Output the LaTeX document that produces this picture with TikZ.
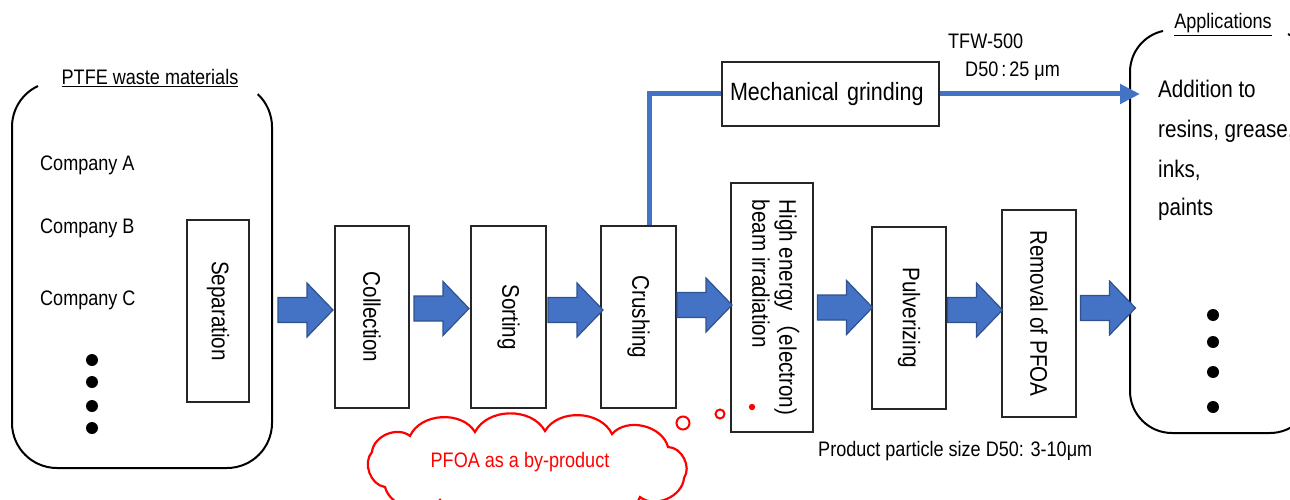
\documentclass[tikz,border=0pt]{standalone}
\usepackage{fontspec}
\setmainfont{Liberation Sans}[FakeStretch=0.86]
\newfontfamily\cjkfont{Noto Sans CJK JP}
\usetikzlibrary{arrows.meta,calc}
\definecolor{flowblue}{HTML}{4472C4}
\definecolor{flowedge}{HTML}{2F528F}
\newcommand\boxsize{\fontsize{24}{27}\selectfont}
\newcommand\labsize{\fontsize{21}{24}\selectfont}
\newcommand\titlesize{\fontsize{21}{24}\selectfont}
\tikzset{
  procbox/.style={draw=black!85, line width=1.2pt, fill=white, inner sep=0pt, font=\boxsize},
  lab/.style={font=\labsize, inner sep=0pt, anchor=base west},
  blueline/.style={draw=flowblue, line width=5pt},
  container/.style={draw=black, line width=2pt},
  bubble/.style={draw=red, line width=2pt},
  puff/.style={bend left=62},
  barrow/.pic={\path[draw=flowedge, fill=flowblue, line width=1.2pt]
    (-27.5,-12.5) -- (1.5,-12.5) -- (1.5,-27) -- (27.5,0) -- (1.5,27)
    -- (1.5,12.5) -- (-27.5,12.5) -- cycle;}
}
\begin{document}
\begin{tikzpicture}[x=1pt,y=-1pt]
\useasboundingbox (0,0) rectangle (1290,500);
\clip (0,0) rectangle (1290,500);

% source container (top edge left open for its title)
\draw[container] (38,86) arc[start angle=245, end angle=180, radius=45]
  -- (12,423) arc[start angle=180, end angle=90, radius=45]
  -- (227,468) arc[start angle=90, end angle=0, radius=45]
  -- (272,127) arc[start angle=0, end angle=-47, radius=45];
\node[lab, anchor=base, font=\titlesize] (ptfe) at (150,85) {\underline{PTFE waste materials}};
\node[lab] (ca) at (40,170) {Company A};
\node[lab] (cb) at (40,233) {Company B};
\node[lab] (cc) at (40,305) {Company C};
\foreach \yy in {360,382,406,428} \fill (92,\yy) circle[radius=6];

% applications container
\draw[container] (1288,34) arc[start angle=295.4, end angle=360, radius=42]
  -- (1312,391) arc[start angle=0, end angle=90, radius=42]
  -- (1172,433) arc[start angle=90, end angle=180, radius=42]
  -- (1130,72) arc[start angle=180, end angle=257.6, radius=42];
\node[lab, anchor=base, font=\titlesize] (apps) at (1223,29) {\underline{Applications}};
\node[lab, font=\boxsize] (add1) at (1158,98) {Addition to};
\node[lab, font=\boxsize] (add2) at (1158,138) {resins, grease,};
\node[lab, font=\boxsize] (add3) at (1158,177) {inks,};
\node[lab, font=\boxsize] (add4) at (1158,215) {paints};
\foreach \yy in {315,342,372,407} \fill (1213,\yy) circle[radius=6];

% process steps
\node[procbox, minimum width=62, minimum height=182] (sep) at (218,311) {\rotatebox{-90}{Separation}};
\node[procbox, minimum width=74, minimum height=182] (coll) at (372,317) {\rotatebox{-90}{Collection}};
\node[procbox, minimum width=75, minimum height=182] (sort) at (508.5,317) {\rotatebox{-90}{Sorting}};
\node[procbox, minimum width=75, minimum height=182] (crush) at (638.5,317) {\rotatebox{-90}{Crushing}};
\node[procbox, minimum width=82, minimum height=249] (beam) at (772,307.5)
  {\rotatebox{-90}{\begin{tabular}{@{}l@{}}High energy{\cjkfont （}electron)\\beam irradiation\end{tabular}}};
\node[procbox, minimum width=74, minimum height=182] (pulv) at (909,318) {\rotatebox{-90}{Pulverizing}};
\node[procbox, minimum width=74, minimum height=207] (rem) at (1039,313.5) {\rotatebox{-90}{Removal of PFOA}};
\node[procbox, minimum width=217, minimum height=64, text width=201, align=left,
  font=\fontsize{25}{28}\selectfont] (mech) at (830.5,94) {Mechanical grinding};

% block arrows between the steps
\pic at (305.5,310) {barrow};
\pic at (441.5,308.5) {barrow};
\pic at (575.5,310) {barrow};
\pic at (704.5,305) {barrow};
\pic at (845,307.5) {barrow};
\pic at (975,310) {barrow};
\pic at (1108,308) {barrow};

% grinding branch
\coordinate (appin) at (1140,94);
\draw[blueline] ([xshift=11pt]crush.north) |- (mech.west);
\draw[blueline, -{Triangle[length=20pt,width=19pt]}] (mech.east) -- (appin);
\node[lab] (tfw) at (948,49) {TFW-500};
\node[lab] (d50) at (965,77) {D50\kern3pt:\kern3pt25 μm};

\node[lab] (prod) at (818,456) {Product particle size D50: 3-10μm};

% by-product thought cloud, built from puffs
\draw[draw=red, line width=2.2pt, fill=white]
  (372,452) to[puff] (410,436) to[puff] (475,432) to[puff] (545,431)
  to[puff] (612,434) to[puff] (668,447) to[puff] (684,478)
  to[puff] (640,497) to[puff] (575,505) to[puff] (505,505)
  to[puff] (440,500) to[puff] (385,487) to[puff] (372,452) -- cycle;
\node[font=\labsize, text=red, inner sep=0pt, anchor=base] (pfoa) at (520,467) {PFOA as a by-product};
\draw[bubble] (683,423) circle[radius=6.5];
\draw[bubble] (720,414) circle[radius=4.5];
\fill[red] (752,407) circle[radius=3.2];
\end{tikzpicture}
\end{document}
